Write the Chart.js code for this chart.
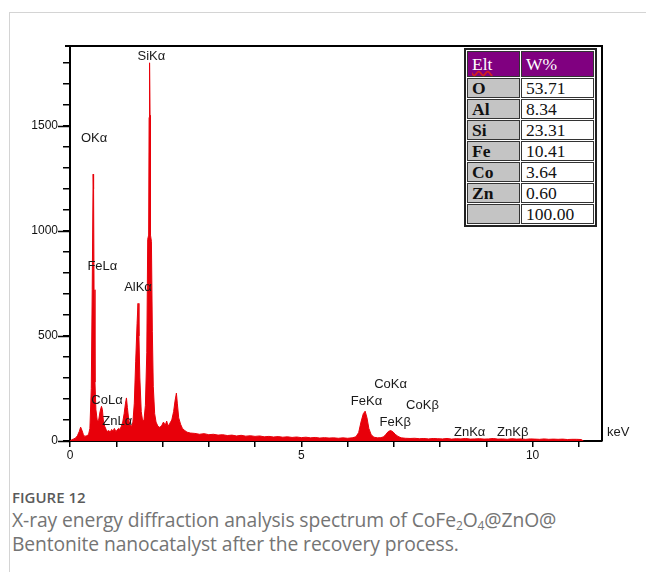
<!DOCTYPE html>
<html>
<head>
<meta charset="utf-8">
<script src="https://cdn.jsdelivr.net/npm/chart.js@4/dist/chart.umd.min.js"></script>
<style>
  html, body { margin: 0; padding: 0; background: #fff; }
  body { width: 646px; height: 572px; position: relative; overflow: hidden; }
  .card { position: absolute; left: 9px; top: 12px; width: 660px; height: 600px;
          border-left: 1px solid #d4d4d4; border-top: 1px solid #d4d4d4; }
  #wrap { position: absolute; left: 0; top: 0; width: 646px; height: 470px; }
  #eltTable { position: absolute; left: 464px; top: 48px; border-collapse: separate;
              border-spacing: 1px; border: 2px solid #222; background: #fff;
              font-family: "Liberation Serif", "Times New Roman", serif; font-size: 17.5px; }
  #eltTable td { border: 1px solid #333; padding: 0 0 0 4px; height: 18px; line-height: 18px; }
  #eltTable td.el { width: 47px; background: #c4c4c4; font-weight: bold; color: #111; }
  #eltTable td.wt { width: 67px; background: #fff; color: #111; }
  #eltTable th { background: #800080; color: #fff; font-weight: normal; text-align: left;
                 padding: 0 0 0 4px; height: 24px; border: 1px solid #333; }
  #eltTable th.elt { text-decoration: underline wavy #d02020; text-decoration-skip-ink: none; }
  .caption { position: absolute; left: 12px; font-family: "Open Sans", sans-serif; }
  #figNum { top: 487px; font-size: 15px; font-weight: 600; color: #5a5a5a; }
  #figText { top: 508px; font-size: 19.3px; line-height: 24px; color: #747474; font-weight: 400;
             letter-spacing: -0.1px; }
  #figText sub { font-size: 12px; line-height: 0; vertical-align: -3px; }
</style>
</head>
<body>
<div class="card"></div>
<div id="wrap"><canvas id="edx" width="646" height="470"></canvas></div>
<table id="eltTable"></table>
<div class="caption" id="figNum">FIGURE 12</div>
<div class="caption" id="figText">X-ray energy diffraction analysis spectrum of CoFe<sub>2</sub>O<sub>4</sub>@ZnO@<br>Bentonite nanocatalyst after the recovery process.</div>
<script>
// EDX spectrum (energy in keV, intensity in counts)
const energyKeV = [
  0.00, 0.04, 0.08, 0.12, 0.16, 0.20, 0.23, 0.26, 0.29, 0.32, 0.36, 0.40, 0.43, 0.46, 0.48,
  0.50, 0.51, 0.52, 0.54, 0.56, 0.59, 0.62, 0.65, 0.68, 0.70, 0.72, 0.75, 0.78, 0.81, 0.84,
  0.87, 0.90, 0.93, 0.96, 0.99, 1.02, 1.05, 1.08, 1.11, 1.14, 1.17, 1.20, 1.22, 1.24, 1.27,
  1.30, 1.33, 1.36, 1.39, 1.42, 1.45, 1.47, 1.49, 1.51, 1.54, 1.57, 1.60, 1.63, 1.66, 1.68,
  1.70, 1.71, 1.72, 1.73, 1.74, 1.76, 1.78, 1.80, 1.83, 1.86, 1.90, 1.94, 1.98, 2.02, 2.06,
  2.09, 2.12, 2.16, 2.20, 2.24, 2.27, 2.30, 2.32, 2.35, 2.39, 2.43, 2.48, 2.53, 2.60, 2.70,
  2.80, 2.90, 3.00, 3.10, 3.20, 3.30, 3.40, 3.50, 3.60, 3.70, 3.80, 3.90, 4.00, 4.10, 4.20,
  4.30, 4.40, 4.50, 4.60, 4.70, 4.80, 4.90, 5.00, 5.10, 5.20, 5.30, 5.40, 5.50, 5.60, 5.70,
  5.80, 5.90, 6.00, 6.10, 6.18, 6.24, 6.29, 6.34, 6.38, 6.42, 6.46, 6.51, 6.57, 6.65, 6.72,
  6.78, 6.83, 6.88, 6.93, 6.98, 7.03, 7.09, 7.16, 7.25, 7.35, 7.45, 7.55, 7.65, 7.75, 7.85,
  7.95, 8.05, 8.15, 8.25, 8.35, 8.45, 8.55, 8.65, 8.75, 8.85, 8.95, 9.05, 9.15, 9.25, 9.35,
  9.45, 9.55, 9.65, 9.75, 9.85, 9.95, 10.05, 10.15, 10.25, 10.35, 10.45, 10.55, 10.65, 10.75, 10.85,
  10.95, 11.05, 11.10
];
const counts = [
  0, 6, 10, 14, 25, 45, 66, 50, 30, 22, 25, 30, 60, 250, 720,
  1270, 1200, 720, 280, 150, 95, 100, 140, 165, 150, 100, 70, 55, 45, 50,
  42, 55, 48, 60, 45, 52, 60, 55, 70, 90, 130, 180, 205, 160, 100,
  75, 70, 90, 180, 380, 560, 655, 500, 300, 140, 95, 100, 170, 420, 960,
  980, 1540, 1800, 1550, 980, 950, 520, 260, 130, 90, 70, 65, 72, 90, 75,
  95, 70, 85, 100, 140, 190, 228, 180, 110, 80, 60, 50, 42, 38, 36,
  32, 35, 30, 32, 28, 30, 26, 28, 24, 27, 23, 25, 22, 24, 20,
  22, 19, 21, 18, 20, 17, 19, 16, 18, 15, 17, 14, 16, 14, 15,
  13, 15, 13, 15, 20, 40, 90, 130, 142, 110, 60, 30, 18, 15, 16,
  20, 32, 45, 50, 44, 32, 22, 15, 13, 12, 13, 11, 12, 10, 12,
  11, 10, 12, 9, 11, 10, 12, 9, 10, 11, 9, 10, 12, 9, 10,
  8, 11, 9, 10, 8, 10, 9, 8, 10, 8, 9, 8, 9, 7, 8,
  8, 7, 0
];

// peak annotations (label anchored at keV / counts)
const peakLabels = ['SiKα', 'OKα', 'FeLα', 'AlKα', 'CoLα', 'ZnLα', 'CoKα', 'FeKα', 'CoKβ', 'FeKβ', 'ZnKα', 'ZnKβ'];
const peakLabelKeV = [1.76, 0.52, 0.70, 1.47, 0.80, 1.02, 6.93, 6.41, 7.62, 7.03, 8.64, 9.57];
const peakLabelCounts = [1830, 1438, 833, 733, 195, 95, 271, 186, 167, 90, 43, 43];

// quantification table
const tableElements = ['O', 'Al', 'Si', 'Fe', 'Co', 'Zn', ''];
const tableWeights = ['53.71', '8.34', '23.31', '10.41', '3.64', '0.60', '100.00'];

const tbl = document.getElementById('eltTable');
let html = '<tr><th class="elt">Elt</th><th>W%</th></tr>';
tableElements.forEach((el, i) => {
  html += '<tr><td class="el">' + el + '</td><td class="wt">' + tableWeights[i] + '</td></tr>';
});
tbl.innerHTML = html;

// frame + longer major ticks + peak labels
const edxDecor = {
  id: 'edxDecor',
  afterDraw(chart) {
    const { ctx, chartArea, scales } = chart;
    ctx.save();
    ctx.strokeStyle = '#000';
    ctx.lineWidth = 2;
    ctx.beginPath();
    ctx.moveTo(chartArea.left - 5, chartArea.top);
    ctx.lineTo(chartArea.right, chartArea.top);
    ctx.lineTo(chartArea.right, chartArea.bottom);
    ctx.stroke();

    ctx.lineWidth = 1.5;
    scales.y.ticks.forEach((t) => {
      if (t.value % 500 === 0) {
        const py = Math.round(scales.y.getPixelForValue(t.value)) + 0.5;
        ctx.beginPath();
        ctx.moveTo(chartArea.left - 12, py);
        ctx.lineTo(chartArea.left, py);
        ctx.stroke();
      }
    });

    ctx.fillStyle = '#1a1a1a';
    ctx.font = '13px "Liberation Sans", Arial, sans-serif';
    ctx.textAlign = 'center';
    ctx.textBaseline = 'middle';
    peakLabels.forEach((lbl, i) => {
      ctx.fillText(lbl, scales.x.getPixelForValue(peakLabelKeV[i]), scales.y.getPixelForValue(peakLabelCounts[i]));
    });
    ctx.textAlign = 'left';
    ctx.fillText('keV', chartArea.right + 5, scales.y.getPixelForValue(43));
    ctx.restore();
  },
};

const ctx = document.getElementById('edx').getContext('2d');
new Chart(ctx, {
  type: 'line',
  data: {
    datasets: [
      {
        label: 'EDX',
        data: energyKeV.map((e, i) => ({ x: e, y: counts[i] })),
        borderColor: '#e8000a',
        backgroundColor: '#e8000a',
        borderWidth: 1,
        pointRadius: 0,
        tension: 0,
        fill: 'origin',
      },
    ],
  },
  options: {
    responsive: false,
    animation: false,
    devicePixelRatio: 1,
    layout: { padding: { left: 0, top: 46, right: 44, bottom: 0 } },
    plugins: {
      legend: { display: false },
      tooltip: { enabled: false },
    },
    scales: {
      x: {
        type: 'linear',
        min: 0,
        max: 11.5,
        afterFit: (s) => { s.height = 29; },
        border: { color: '#000', width: 2 },
        grid: { drawOnChartArea: false, color: '#000', tickLength: 6, lineWidth: 1.5 },
        ticks: {
          stepSize: 1,
          includeBounds: false,
          autoSkip: false,
          maxRotation: 0,
          padding: 1,
          color: '#111',
          font: { family: '"Liberation Sans", Arial, sans-serif', size: 12 },
          callback: (v) => (v % 5 === 0 ? v : ''),
        },
      },
      y: {
        min: 0,
        max: 1880,
        afterFit: (s) => { s.width = 70; },
        border: { color: '#000', width: 2 },
        grid: { drawOnChartArea: false, color: '#000', tickLength: 7, lineWidth: 1.5 },
        ticks: {
          stepSize: 100,
          includeBounds: false,
          autoSkip: false,
          padding: 5,
          color: '#111',
          font: { family: '"Liberation Sans", Arial, sans-serif', size: 12 },
          callback: (v) => (v % 500 === 0 ? v : ''),
        },
      },
    },
  },
  plugins: [edxDecor],
});
</script>
</body>
</html>
